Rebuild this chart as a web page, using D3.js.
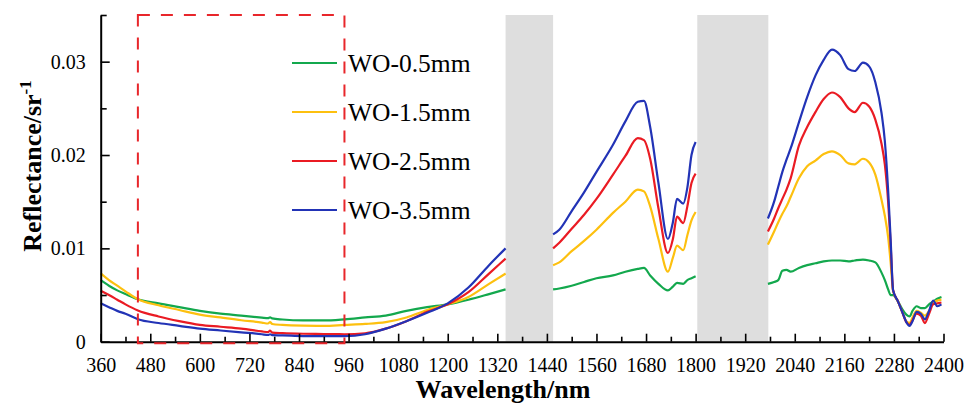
<!DOCTYPE html>
<html>
<head>
<meta charset="utf-8">
<script src="https://cdn.jsdelivr.net/npm/d3@7"></script>
<style>
  html, body { margin: 0; padding: 0; background: #fff; }
  svg { display: block; }
  text { font-family: "Liberation Serif", "Times New Roman", serif; fill: #000; }
</style>
</head>
<body>
<svg id="chart" width="965" height="405"></svg>
<script>
// Wavelength samples (nm). 1400 and 1890 sit inside the water-absorption bands and carry no value.
const wavelengths = [
  360, 380, 400, 420, 450, 500, 550, 600, 650, 700, 750, 765, 770, 775, 800, 850, 900, 950, 1000, 1050, 1100, 1150, 1200, 1250, 1300, 1340,
  1400,
  1455, 1470, 1500, 1530, 1560, 1600, 1630, 1660, 1675, 1690, 1710, 1733, 1745, 1755, 1770, 1780, 1790, 1800,
  1890,
  1975, 1990, 2000, 2010, 2020, 2030, 2050, 2070, 2090, 2110, 2130, 2150, 2170, 2185, 2205, 2220, 2235, 2250, 2258, 2266,
  2272, 2278, 2290, 2300, 2310, 2318, 2325, 2335, 2345, 2355, 2365, 2375, 2385, 2395
];

const wo05 = [
  .0066, .0060, .0055, .0051, .00455, .0041, .0037, .0033, .0030, .0028, .00258, .00252, .0026, .0025, .00238, .00228, .00228, .0024, .0026, .0028, .0033, .0037, .0040, .0045, .0051, .0056,
  null,
  .0056, .0057, .0060, .0064, .0068, .0071, .0075, .0078, .0079, .0071, .0062, .0055, .0059, .0063, .0062, .0066, .0068, .0070,
  null,
  .0062, .0064, .0066, .0076, .0077, .0075, .0079, .0082, .0084, .0086, .0087, .0087, .0086, .0087, .0088, .0087, .0085, .0074, .0066, .0056,
  .0050, .0050, .0043, .0035, .0029, .0027, .0033, .0038, .0036, .0036, .0040, .0043, .0046, .0048
];

const wo15 = [
  .00732, .0066, .0060, .0054, .00455, .0039, .0034, .0029, .0026, .0023, .00205, .00195, .0021, .0019, .0018, .00172, .0017, .0018, .0019, .0021, .0026, .0034, .0040, .0048, .0062, .0073,
  null,
  .0082, .0085, .0097, .0108, .0120, .0138, .0150, .0163, .0161, .0145, .0110, .0075, .0090, .0103, .0098, .0114, .0130, .0139,
  null,
  .0104, .0118, .0128, .0137, .0145, .0155, .0175, .0188, .0194, .0201, .0204, .0200, .0191, .0190, .0196, .0192, .0179, .0152, .0135, .0112,
  .0085, .0054, .0043, .0032, .0022, .0020, .0026, .0033, .0031, .0028, .0033, .0042, .0044, .0045
];

const wo25 = [
  .00546, .0050, .0045, .0040, .00335, .0027, .0022, .0018, .0016, .0014, .0011, .00102, .0012, .00098, .00092, .00085, .00082, .0008, .0009, .0014, .0022, .0032, .0040, .0053, .0073, .0089,
  null,
  .0100, .0106, .0121, .0136, .0153, .0179, .0199, .0218, .0216, .0196, .0143, .0095, .0110, .0134, .0127, .0145, .0170, .0180,
  null,
  .0118, .0132, .0143, .0153, .0163, .0175, .0210, .0230, .0246, .0260, .0267, .0262, .0250, .0246, .0256, .0252, .0238, .0212, .0190, .0150,
  .0105, .0055, .0043, .0032, .0021, .0018, .0023, .0030, .0028, .0020, .0030, .0040, .0041, .0042
];

const wo35 = [
  .00411, .0037, .0033, .0030, .0024, .0020, .0017, .0014, .0012, .0010, .0008, .00072, .0008, .0007, .00068, .0006, .0006, .0006, .0008, .0014, .0022, .0031, .0041, .0058, .0082, .0100,
  null,
  .0115, .0120, .0140, .0160, .0182, .0211, .0236, .0257, .0258, .0230, .0170, .0110, .0128, .0153, .0148, .0165, .0200, .0214,
  null,
  .0132, .0150, .0166, .0182, .0195, .0207, .0235, .0262, .0285, .0302, .0313, .0307, .0292, .0290, .0299, .0295, .0278, .0245, .0215, .0162,
  .0110, .0055, .0043, .0032, .0021, .0017, .0022, .0032, .0030, .0024, .0033, .0044, .0038, .0040
];

const seriesNames = ["WO-0.5mm", "WO-1.5mm", "WO-2.5mm", "WO-3.5mm"];
const seriesValues = [wo05, wo15, wo25, wo35];
const seriesColors = ["#13a84d", "#fdc00f", "#ea1b23", "#2233b6"];

// Masked water-absorption bands (nm) and the highlighted visible/NIR window (nm)
const maskedBands = [[1340, 1455], [1804, 1976]];
const focusWindow = [450, 950];

const xMajorTicks = d3.range(360, 2401, 120);
const xMinorTicks = d3.range(420, 2400, 120);
const yMajorTicks = [0, 0.01, 0.02, 0.03];
const yMinorTicks = [0.005, 0.015, 0.025, 0.035];

const svg = d3.select("#chart");
const x = d3.scaleLinear().domain([360, 2400]).range([100.7, 943.5]);
const y = d3.scaleLinear().domain([0, 0.035]).range([341.7, 15]);

// grey masked bands
svg.append("g").selectAll("rect").data(maskedBands).join("rect")
  .attr("x", d => x(d[0])).attr("width", d => x(d[1]) - x(d[0]))
  .attr("y", y(0.035)).attr("height", y(0) - y(0.035))
  .attr("fill", "#dedede");

// spectra
const line = d3.line()
  .defined(d => d.v !== null)
  .curve(d3.curveMonotoneX)
  .x(d => x(d.w)).y(d => y(d.v));

svg.append("g").selectAll("path").data(seriesValues).join("path")
  .attr("d", vals => line(wavelengths.map((w, i) => ({ w, v: vals[i] }))))
  .attr("fill", "none")
  .attr("stroke", (d, i) => seriesColors[i])
  .attr("stroke-width", 2.2)
  .attr("stroke-linejoin", "round");

// axes
const fmt = d => d === 0 ? "0" : d3.format(".2f")(d);

svg.append("g").attr("transform", `translate(${x(360)},0)`)
  .call(d3.axisLeft(y).tickValues(yMajorTicks).tickFormat(fmt).tickSize(-9).tickSizeOuter(0).tickPadding(15));
svg.append("g").attr("transform", `translate(${x(360)},0)`)
  .call(d3.axisLeft(y).tickValues(yMinorTicks).tickFormat("").tickSize(-6).tickSizeOuter(0))
  .select(".domain").remove();

svg.append("g").attr("transform", `translate(0,${y(0)})`)
  .call(d3.axisBottom(x).tickValues(xMajorTicks).tickFormat(d3.format("d")).tickSize(-8).tickSizeOuter(0).tickPadding(16));
svg.append("g").attr("transform", `translate(0,${y(0)})`)
  .call(d3.axisBottom(x).tickValues(xMinorTicks).tickFormat("").tickSize(-5).tickSizeOuter(0))
  .select(".domain").remove();

svg.selectAll(".domain").attr("stroke", "#000").attr("stroke-width", 2);
svg.selectAll(".tick line").attr("stroke", "#000").attr("stroke-width", 1.6);
svg.selectAll(".tick text").attr("font-size", 20).attr("font-family", "Liberation Serif, Times New Roman, serif").attr("fill", "#000");

// dashed outline of the focus window
svg.append("rect")
  .attr("x", x(focusWindow[0])).attr("y", y(0.035))
  .attr("width", x(focusWindow[1]) - x(focusWindow[0]))
  .attr("height", y(0) - y(0.035) + 1.5)
  .attr("fill", "none")
  .attr("stroke", "#e8262b").attr("stroke-width", 2)
  .attr("stroke-dasharray", "12 11");

// legend
const legend = svg.append("g").selectAll("g").data(seriesNames).join("g")
  .attr("transform", (d, i) => `translate(292,${63 + i * 49})`);
legend.append("line")
  .attr("x1", 0).attr("x2", 45).attr("y1", 0).attr("y2", 0)
  .attr("stroke", (d, i) => seriesColors[i]).attr("stroke-width", 2.2);
legend.append("text")
  .attr("x", 56).attr("y", 9)
  .attr("font-size", 25.5)
  .text(d => d);

// axis titles
svg.append("text")
  .attr("x", 503).attr("y", 398)
  .attr("text-anchor", "middle")
  .attr("font-size", 26).attr("font-weight", "bold")
  .text("Wavelength/nm");

const yTitle = svg.append("text")
  .attr("transform", "translate(41,166) rotate(-90)")
  .attr("text-anchor", "middle")
  .attr("font-size", 26).attr("font-weight", "bold");
yTitle.append("tspan").text("Reflectance/sr");
yTitle.append("tspan").attr("font-size", 17).attr("dy", -10).text("-1");
</script>
</body>
</html>
